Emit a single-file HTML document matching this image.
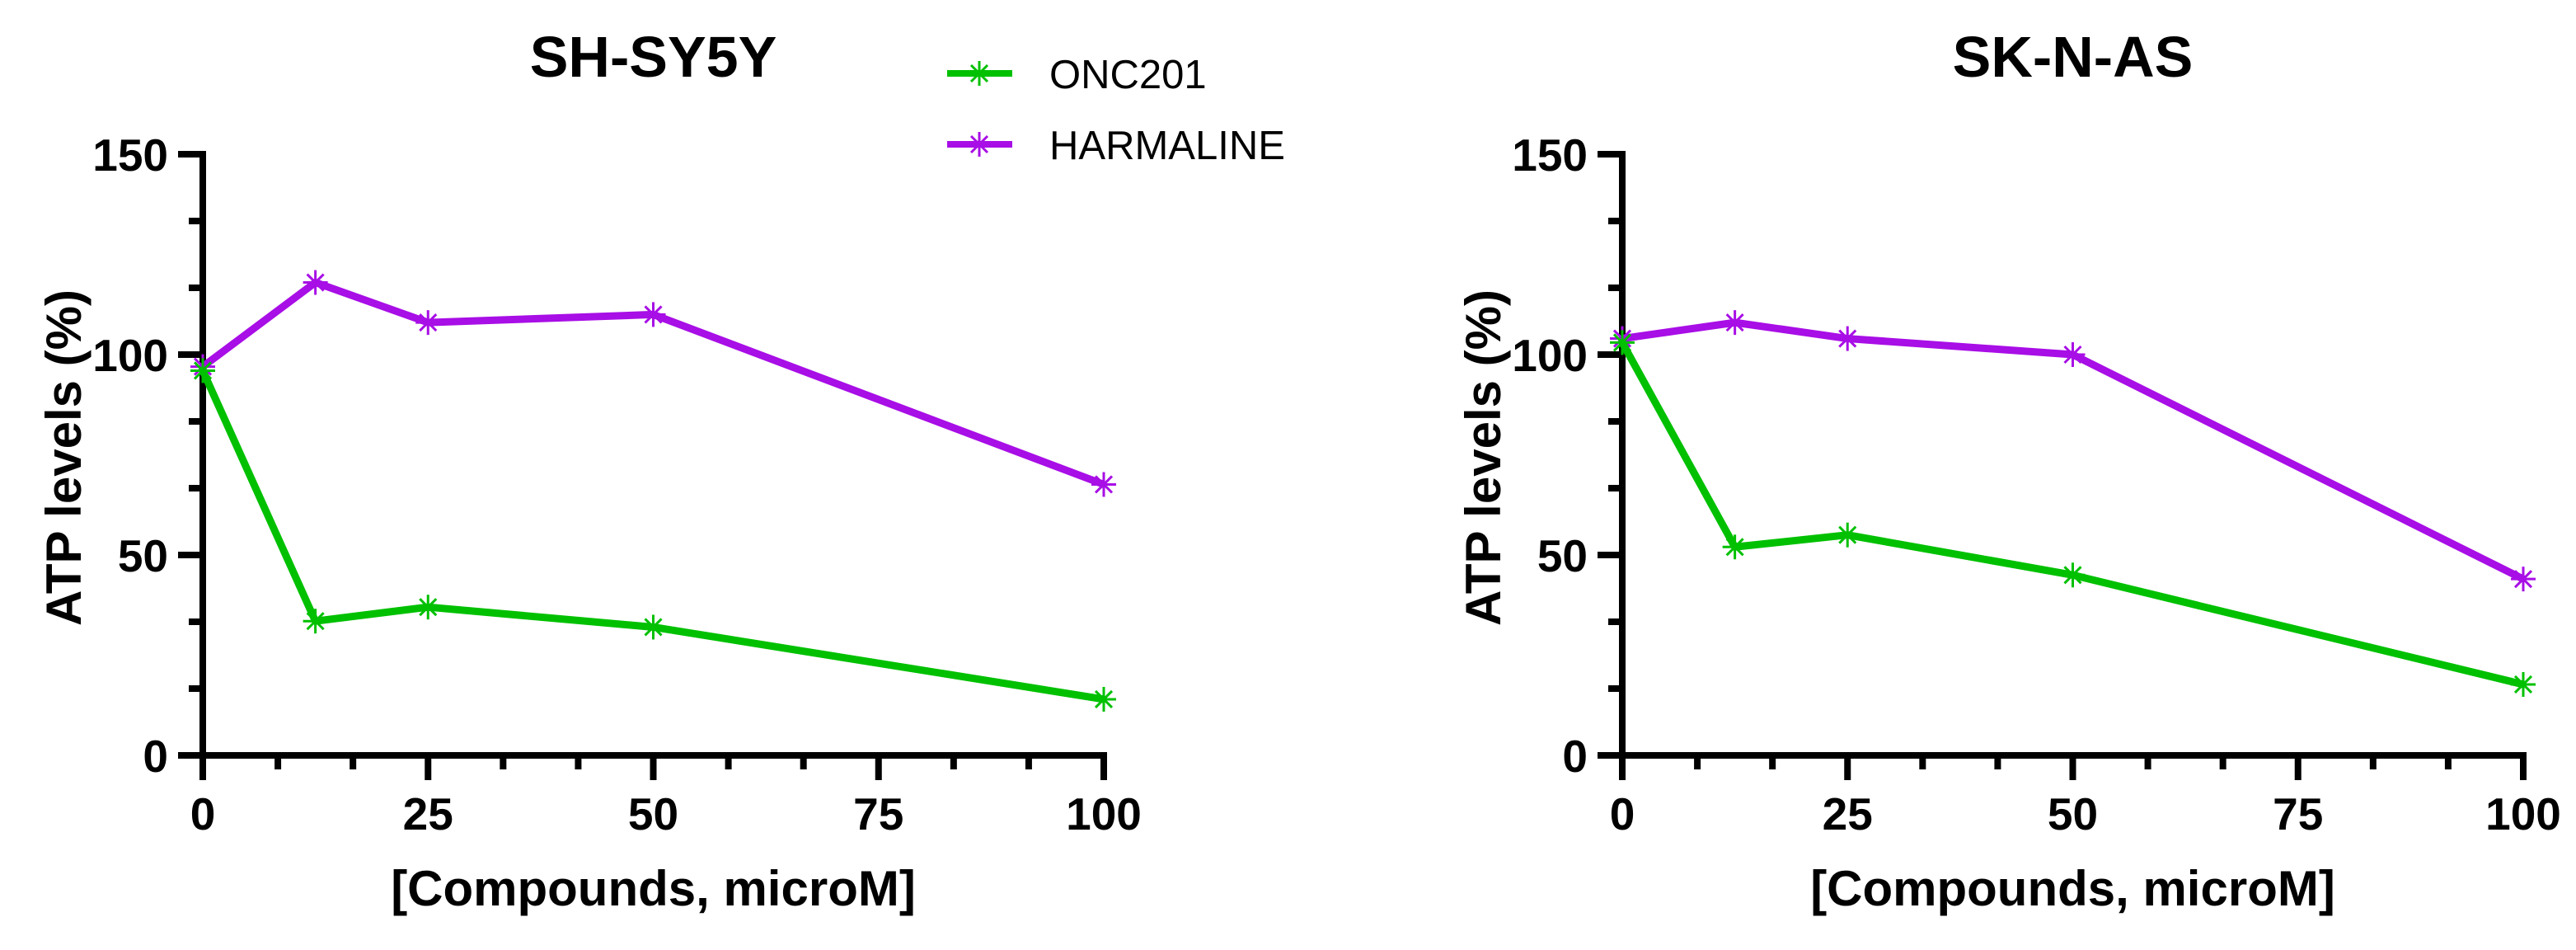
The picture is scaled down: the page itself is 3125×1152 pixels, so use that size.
<!DOCTYPE html>
<html><head><meta charset="utf-8"><style>
html,body{margin:0;padding:0;background:#fff;}
svg{display:block;}
text{font-family:"Liberation Sans",Arial,sans-serif;fill:#000;}
</style></head><body>
<svg id="chart" width="3125" height="1152" viewBox="0 0 3125 1152" xmlns="http://www.w3.org/2000/svg">
<g id="legend">
  <g>
    <line x1="1149" y1="89" x2="1228" y2="89" stroke="#00c000" stroke-width="8"/>
    <g stroke="#00c000" stroke-width="3"><line x1="1188" y1="74" x2="1188" y2="104"/><line x1="1178" y1="79" x2="1198" y2="99"/><line x1="1198" y1="79" x2="1178" y2="99"/></g>
    <text x="1273" y="107" font-size="49">ONC201</text>
  </g>
  <g>
    <line x1="1149" y1="175" x2="1228" y2="175" stroke="#a80ee6" stroke-width="8"/>
    <g stroke="#a80ee6" stroke-width="3"><line x1="1188" y1="160" x2="1188" y2="190"/><line x1="1178" y1="165" x2="1198" y2="185"/><line x1="1198" y1="165" x2="1178" y2="185"/></g>
    <text x="1273" y="193" font-size="49">HARMALINE</text>
  </g>
</g>
</svg>
<script>
const xValues = [0, 12.5, 25, 50, 100];
const leftOnc = [96, 33.5, 37, 32, 14];
const leftHarm = [97, 118, 108, 110, 67.6];
const rightOnc = [103, 52, 55, 45, 17.7];
const rightHarm = [104, 108, 104, 100, 44];
const xTickLabels = [0, 25, 50, 75, 100];
const yTickLabels = [0, 50, 100, 150];
const seriesNames = ['ONC201', 'HARMALINE'];

const NS = 'http://www.w3.org/2000/svg';
const svg = document.getElementById('chart');
const GREEN = '#00c000', PURPLE = '#a80ee6';

function mk(tag, attrs, parent) {
  const e = document.createElementNS(NS, tag);
  for (const k in attrs) e.setAttribute(k, attrs[k]);
  parent.appendChild(e);
  return e;
}

function drawPanel(id, title, x0, x1, oncVals, harmVals) {
  const y0 = 916, y1 = 187;
  const xs = v => x0 + (v / 100) * (x1 - x0);
  const ys = v => y0 - (v / 150) * (y0 - y1);
  const g = mk('g', {}, svg);
  
  

  const t = mk('text', {x: (x0 + x1) / 2, y: 93, 'font-size': 70, 'font-weight': 'bold', 'text-anchor': 'middle'}, g);
  t.textContent = title;
  
  

  // y axis
  const ya = mk('g', {}, g);
  
  
  mk('line', {x1: x0, y1: y1 - 4, x2: x0, y2: y0 + 4, stroke: '#000', 'stroke-width': 8}, ya);
  for (let i = 0; i <= 9; i++) {
    const v = i * 150 / 9;
    const major = i % 3 === 0;
    mk('line', {x1: x0 - (major ? 30 : 17), y1: ys(v), x2: x0, y2: ys(v), stroke: '#000', 'stroke-width': 8}, ya);
  }
  yTickLabels.forEach(v => {
    const tl = mk('text', {x: x0 - 42, y: ys(v) + 20, 'font-size': 55, 'font-weight': 'bold', 'text-anchor': 'end'}, ya);
    tl.textContent = v;
    
    
  });
  const yt = mk('text', {x: 0, y: 0, 'font-size': 60, 'font-weight': 'bold', 'text-anchor': 'middle', transform: `translate(${x0 - 148},555) rotate(-90)`}, ya);
  yt.textContent = 'ATP levels (%)';
  
  

  // x axis
  const xa = mk('g', {}, g);
  
  
  mk('line', {x1: x0 - 4, y1: y0, x2: x1 + 4, y2: y0, stroke: '#000', 'stroke-width': 8}, xa);
  for (let i = 0; i <= 12; i++) {
    const v = i * 100 / 12;
    const major = i % 3 === 0;
    mk('line', {x1: xs(v), y1: y0, x2: xs(v), y2: y0 + (major ? 30 : 17), stroke: '#000', 'stroke-width': 8}, xa);
  }
  xTickLabels.forEach(v => {
    const tl = mk('text', {x: xs(v), y: 1006, 'font-size': 55, 'font-weight': 'bold', 'text-anchor': 'middle'}, xa);
    tl.textContent = v;
    
    
  });
  const xt = mk('text', {x: (x0 + x1) / 2, y: 1098, 'font-size': 60, 'font-weight': 'bold', 'text-anchor': 'middle'}, xa);
  xt.textContent = '[Compounds, microM]';
  
  

  [[harmVals, PURPLE, 'harmaline'], [oncVals, GREEN, 'onc201']].forEach(([vals, col, nm]) => {
    const sg = mk('g', {}, g);
    
    
    const pts = xValues.map((x, i) => xs(x) + ',' + ys(vals[i])).join(' ');
    const pl = mk('polyline', {points: pts, fill: 'none', stroke: col, 'stroke-width': 9, 'stroke-linejoin': 'round'}, sg);
    
    
    xValues.forEach((x, i) => {
      const cx = xs(x), cy = ys(vals[i]);
      const m = mk('g', {stroke: col, 'stroke-width': 3}, sg);
      
      
      mk('line', {x1: cx, y1: cy - 15, x2: cx, y2: cy + 15}, m);
      mk('line', {x1: cx - 15, y1: cy, x2: cx + 15, y2: cy}, m);
      mk('line', {x1: cx - 10, y1: cy - 10, x2: cx + 10, y2: cy + 10}, m);
      mk('line', {x1: cx + 10, y1: cy - 10, x2: cx - 10, y2: cy + 10}, m);
    });
  });
}

drawPanel('sh-sy5y', 'SH-SY5Y', 246, 1339, leftOnc, leftHarm);
drawPanel('sk-n-as', 'SK-N-AS', 1968, 3061, rightOnc, rightHarm);
</script>
</body></html>
